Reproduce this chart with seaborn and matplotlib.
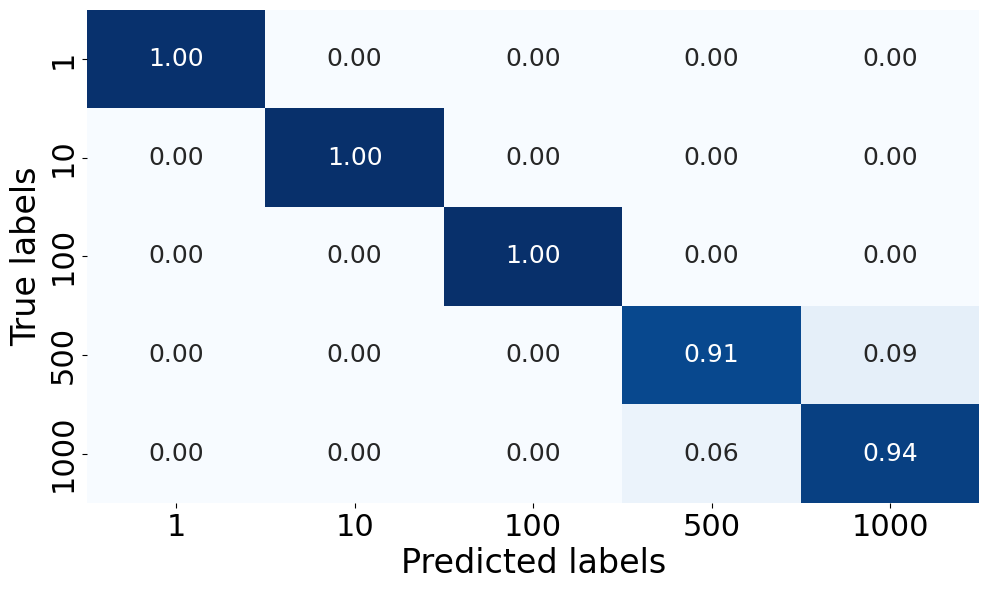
import numpy as np
import matplotlib
matplotlib.use("Agg")
import matplotlib.pyplot as plt
import seaborn as sns

# class labels and normalized confusion matrix rows
class_labels = ["1", "10", "100", "500", "1000"]
row_1 = [0.996, 0.0, 0.0, 0.0, 0.0]
row_10 = [0.0, 0.997, 0.0, 0.0, 0.0]
row_100 = [0.0, 0.0, 1.0, 0.0, 0.0]
row_500 = [0.0, 0.0, 0.0, 0.91, 0.09]
row_1000 = [0.0, 0.0, 0.0, 0.06, 0.94]

cm = np.array([row_1, row_10, row_100, row_500, row_1000])

fig, ax = plt.subplots(figsize=(9.89, 5.9), dpi=100)
sns.heatmap(
    cm, annot=True, fmt=".2f", cmap="Blues", cbar=False,
    xticklabels=class_labels, yticklabels=class_labels,
    annot_kws={"size": 18}, ax=ax
)
ax.set_xlabel("Predicted labels", fontsize=24)
ax.set_ylabel("True labels", fontsize=24)
ax.tick_params(axis="x", labelsize=22)
ax.tick_params(axis="y", labelsize=22)
plt.setp(ax.get_yticklabels(), rotation=90, va="center")
fig.tight_layout(pad=0.7)
fig.savefig("out.png", dpi=100)
